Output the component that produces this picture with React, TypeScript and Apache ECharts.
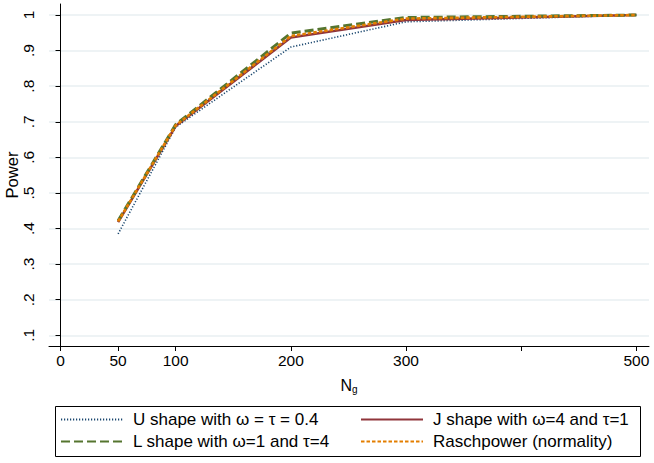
import React, { useEffect, useRef } from "react";
import * as echarts from "echarts";

const sampleSizes = [50, 100, 200, 300, 500];
const uShape = [0.385, 0.685, 0.91, 0.981, 1.0];
const jShape = [0.418, 0.688, 0.937, 0.986, 1.0];
const lShape = [0.422, 0.692, 0.949, 0.993, 1.0];
const raschPower = [0.42, 0.69, 0.941, 0.99, 1.0];

const xTickValues = [0, 50, 100, 200, 300, 400, 500];
const xLabelValues = [0, 50, 100, 200, 300, 500];
const yTickValues = [0.1, 0.2, 0.3, 0.4, 0.5, 0.6, 0.7, 0.8, 0.9, 1.0];

const seriesNames = [
  "U shape with ω = τ = 0.4",
  "J shape with ω=4 and τ=1",
  "L shape with ω=1 and τ=4",
  "Raschpower (normality)",
];

const FONT = "Liberation Sans, Arial, Helvetica, sans-serif";

function pairs(ys: number[]) {
  return sampleSizes.map((x, i) => [x, ys[i]]);
}

export default function App() {
  const ref = useRef<HTMLDivElement>(null);
  useEffect(() => {
    document.body.style.margin = "0";
    const chart = echarts.init(ref.current!, null, { renderer: "svg" });
    const legendCommon = {
      orient: "vertical",
      top: 411,
      padding: 0,
      itemGap: 5,
      itemWidth: 62,
      itemHeight: 18,
      itemStyle: { opacity: 0 },
      textStyle: { fontSize: 17, color: "#000", fontFamily: FONT, padding: [0, 0, 0, 5] },
    };
    const option: any = {
      animation: false,
      backgroundColor: "#ffffff",
      textStyle: { fontFamily: FONT },
      grid: {
        left: 49,
        right: 5,
        top: 4,
        bottom: 117,
        containLabel: false,
        outerBoundsMode: "none",
      },
      xAxis: {
        type: "value",
        min: -10,
        max: 511,
        name: "{n|N}{g|g}",
        nameLocation: "middle",
        nameGap: 30,
        nameMoveOverlap: false,
        nameTextStyle: {
          rich: {
            n: { fontSize: 16, color: "#000", fontFamily: FONT, lineHeight: 18 },
            g: { fontSize: 10, color: "#000", fontFamily: FONT, lineHeight: 18, padding: [9, 0, 0, 0] },
          },
        },
        axisLine: { show: true, onZero: false, lineStyle: { color: "#000", width: 1 } },
        axisTick: { show: true, length: 5, customValues: xTickValues, lineStyle: { color: "#000" } },
        axisLabel: {
          customValues: xLabelValues,
          fontSize: 15.5,
          color: "#000",
          margin: 6,
          fontFamily: FONT,
        },
        splitLine: { show: false },
      },
      yAxis: {
        type: "value",
        min: 0.07,
        max: 1.031,
        name: "Power",
        nameLocation: "middle",
        nameGap: 29,
        nameRotate: 90,
        nameMoveOverlap: false,
        nameTextStyle: { fontSize: 16.5, color: "#000", fontFamily: FONT },
        axisLine: { show: true, lineStyle: { color: "#000", width: 1 } },
        axisTick: { show: true, length: 5, customValues: yTickValues, lineStyle: { color: "#000" } },
        axisLabel: {
          customValues: yTickValues,
          rotate: 90,
          fontSize: 15.5,
          color: "#000",
          margin: 13,
          fontFamily: FONT,
          formatter: (v: number) => {
            const r = Math.round(v * 10) / 10;
            return r === 1 ? "1" : "." + Math.round(r * 10);
          },
        },
        splitLine: { show: true, lineStyle: { color: "#e8eff2", width: 1.5 } },
      },
      legend: [
        { ...legendCommon, left: 60, data: [seriesNames[0], seriesNames[2]] },
        { ...legendCommon, left: 360, data: [seriesNames[1], seriesNames[3]] },
      ],
      graphic: [
        {
          type: "rect",
          shape: { x: 55.5, y: 406.5, width: 585, height: 50 },
          style: { fill: "none", stroke: "#000", lineWidth: 1 },
          silent: true,
        },
      ],
      series: [
        {
          name: seriesNames[0],
          type: "line",
          data: pairs(uShape),
          symbol: "none",
          lineStyle: { color: "#1a476f", width: 1.6, type: [1.2, 1.8] },
          itemStyle: { color: "#1a476f" },
        },
        {
          name: seriesNames[1],
          type: "line",
          data: pairs(jShape),
          symbol: "none",
          lineStyle: { color: "#90353b", width: 2.6, type: "solid" },
          itemStyle: { color: "#90353b" },
        },
        {
          name: seriesNames[2],
          type: "line",
          data: pairs(lShape),
          symbol: "none",
          lineStyle: { color: "#55752f", width: 3, type: [9, 4] },
          itemStyle: { color: "#55752f" },
        },
        {
          name: seriesNames[3],
          type: "line",
          data: pairs(raschPower),
          symbol: "none",
          lineStyle: { color: "#e37e00", width: 2.6, type: [3.5, 2] },
          itemStyle: { color: "#e37e00" },
        },
      ],
    };
    chart.setOption(option);
    return () => chart.dispose();
  }, []);
  return <div ref={ref} style={{ width: 654, height: 463 }} />;
}
